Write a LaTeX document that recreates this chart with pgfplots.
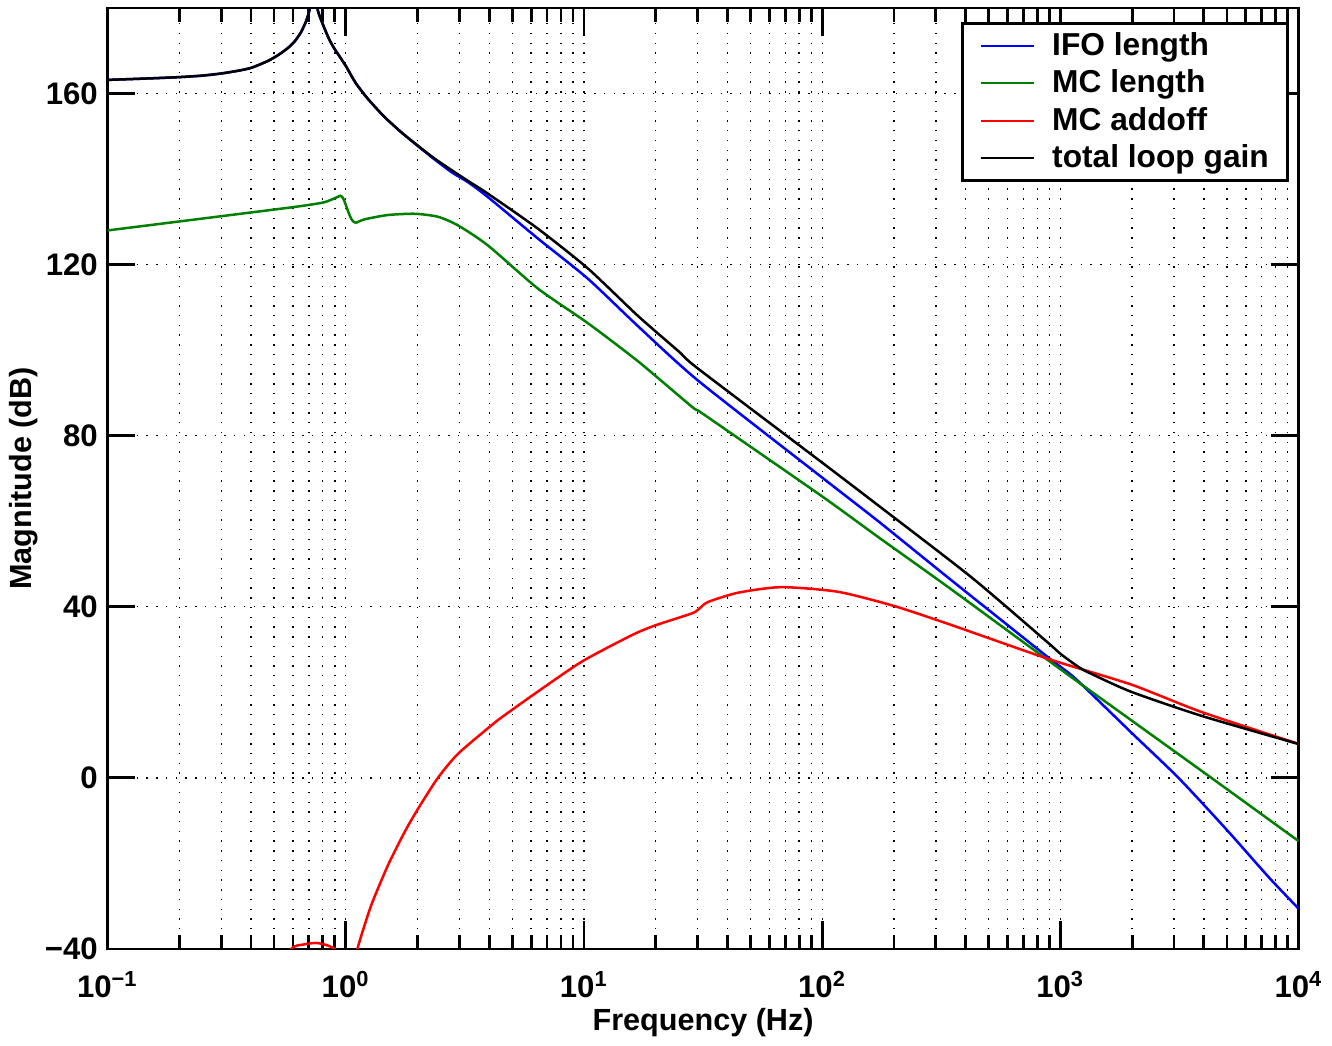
\documentclass[border=0pt]{standalone}
\usepackage{pgfplots}
\pgfplotsset{compat=1.18}
\usepackage{fontspec}
\setmainfont{Liberation Sans}
\definecolor{mgreen}{rgb}{0,0.5,0}
\begin{document}
\begin{tikzpicture}
\begin{axis}[
  scale only axis,
  width=428.4pt, height=338.4pt,
  xmode=log,
  xmin=0.1, xmax=10000,
  ymin=-40, ymax=180,
  xtick={0.1,1,10,100,1000,10000},
  xticklabels={10\textsuperscript{−1},10\textsuperscript{0},10\textsuperscript{1},10\textsuperscript{2},10\textsuperscript{3},10\textsuperscript{4}},
  ytick={-40,0,40,80,120,160},
  yticklabels={−40,0,40,80,120,160},
  minor ytick={},
  tick align=inside,
  major tick length=10pt,
  minor tick length=5pt,
  axis line style={line width=1pt},
  major tick style={line width=1pt, black},
  minor tick style={line width=1pt, black},
  xmajorgrids, xminorgrids, ymajorgrids,
  major grid style={black, line width=0.5pt, dash pattern=on 0.5pt off 3pt},
  minor grid style={black, line width=0.5pt, dash pattern=on 0.5pt off 3pt},
  tick label style={font=\fontsize{11.2}{13}\selectfont\bfseries},
  xticklabel style={yshift=-4.6pt},
  xlabel={Frequency (Hz)},
  ylabel={Magnitude (dB)},
  label style={font=\fontsize{11}{13}\selectfont\bfseries},
  xlabel style={at={(axis description cs:0.5,-0.078)}, anchor=center},
  ylabel style={at={(axis description cs:-0.0705,0.5)}, anchor=center},
  legend style={at={(axis description cs:0.9915,0.985)}, anchor=north east,
    draw=black, line width=1pt, font=\fontsize{11.4}{13}\selectfont\bfseries,
    row sep=-0.3pt, inner xsep=6.2pt, inner ysep=1.15pt,
    nodes={inner xsep=0.4pt}},
  legend cell align=left,
  legend image code/.code={\draw[#1, line width=0.8pt] (0pt,0pt) -- (19pt,0pt); \path[draw=none] (0pt,0pt) -- (25.2pt,0pt);},
  every axis plot/.append style={line width=0.9pt},
]
\addplot[blue, smooth, tension=0.4] coordinates {
(0.1,163.2) (0.15,163.55) (0.2,163.85) (0.25,164.2) (0.3,164.7) (0.35,165.3) (0.4,166.0) (0.47,167.6) (0.52,169.0) (0.57,170.6) (0.61,172.2) (0.648,174.3) (0.68,176.8) (0.704,179.5) (0.72,184) (0.733,190) (0.748,184) (0.763,179.5) (0.8,176.3) (0.85,172.8) (0.896,170.5) (0.997,166.6) (1.1,162.5) (1.237,158.8) (1.45,154.6) (1.707,151) (2.0,147.8) (2.36,144.6) (2.8,141.5) (3.255,139.3) (3.951,135.8) (6.41,126.1) (10.39,116.7) (16.86,105.6) (30.1,92.9) (100,70.2) (171.9,60) (338,46.8) (891,28.1) (1156,23.2) (2000,10.4) (3130,0) (5000,-12.2) (7480,-23.2) (10000,-30.6)
};
\addlegendentry{IFO length}
\addplot[mgreen, smooth, tension=0.4] coordinates {
(0.1,128) (0.2,130.1) (0.4,132.2) (0.63,133.6) (0.8,134.5) (0.88,135.3) (0.95,136.1) (0.975,135.5) (1.0,134) (1.03,132) (1.06,130.5) (1.1,129.8) (1.2,130.6) (1.5,131.6) (1.95,131.9) (2.436,131.2) (2.955,129.2) (3.951,124.5) (6.41,114.4) (10.39,106.3) (16.86,97.4) (28.2,86.9) (30.1,85.9) (35,83.4) (100,65.8) (171.9,56.3) (338,44.6) (1000,25.4) (4300,0) (10000,-14.8)
};
\addlegendentry{MC length}
\addplot[red, smooth, tension=0.4] coordinates {
(0.3,-60) (0.45,-48) (0.59,-40) (0.66,-39) (0.75,-38.6) (0.84,-39.2) (0.91,-40.5) (0.97,-46) (1.02,-50) (1.07,-46) (1.123,-39.7) (1.277,-29.9) (1.502,-20.5) (1.765,-12.7) (2.007,-7.3) (2.436,0) (2.955,5.6) (3.951,11.6) (4.35,13.5) (6.01,19.1) (9.74,27.1) (15.8,33.3) (19.8,35.6) (28.2,38.4) (30.1,39.3) (33.1,41.1) (44.4,43.3) (67.3,44.6) (116.7,43.5) (200,40.2) (338,36) (891,27.8) (1987,21.8) (3910,15.4) (10000,7.95)
};
\addlegendentry{MC addoff}
\addplot[black, smooth, tension=0.4] coordinates {
(0.1,163.2) (0.15,163.55) (0.2,163.85) (0.25,164.2) (0.3,164.7) (0.35,165.3) (0.4,166.0) (0.47,167.6) (0.52,169.0) (0.57,170.6) (0.61,172.2) (0.648,174.3) (0.68,176.8) (0.704,179.5) (0.72,184) (0.733,190) (0.748,184) (0.763,179.5) (0.8,176.3) (0.85,172.8) (0.896,170.5) (0.997,166.6) (1.1,162.5) (1.237,158.8) (1.45,154.6) (1.707,151) (2.0,147.9) (2.36,144.8) (2.8,142.0) (3.255,139.6) (3.951,136.6) (6.41,128.4) (10.39,119.1) (16.86,108) (25,99.7) (30.1,95.7) (100,73.7) (171.9,63.7) (423,46.9) (891,31.5) (1000,29) (1200,25.8) (1350,24.3) (1987,20.1) (3910,14.5) (10000,7.9)
};
\addlegendentry{total loop gain}
\end{axis}
\path ([yshift=2.9pt]current axis.north) circle (0pt);
\end{tikzpicture}
\end{document}
